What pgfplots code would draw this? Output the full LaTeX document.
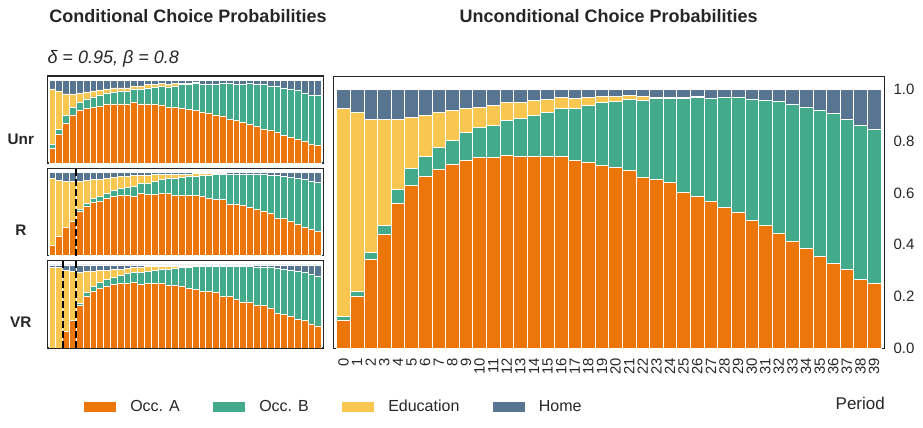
\documentclass[border=0pt]{standalone}
\usepackage{pgfplots}
\pgfplotsset{compat=1.18}
\usepackage{pgfplotstable}
\usepackage{fontspec}
\setmainfont{Liberation Sans}
\definecolor{occa}{RGB}{236,118,10}
\definecolor{occb}{RGB}{67,170,139}
\definecolor{edu}{RGB}{249,199,79}
\definecolor{home}{RGB}{87,117,144}
\definecolor{txt}{RGB}{38,38,38}
\newcommand{\fs}[1]{\fontsize{#1}{#1}\selectfont}

\pgfplotstableread{
x A B E H
0 .108 .016 .803 .073
1 .201 .019 .691 .089
2 .344 .027 .513 .116
3 .440 .035 .409 .116
4 .560 .054 .270 .116
5 .629 .066 .197 .108
6 .664 .077 .159 .100
7 .691 .085 .135 .089
8 .710 .093 .116 .081
9 .726 .108 .093 .073
10 .737 .116 .078 .069
11 .737 .124 .077 .062
12 .745 .135 .070 .050
13 .741 .147 .062 .050
14 .741 .159 .058 .042
15 .741 .170 .050 .039
16 .741 .186 .042 .031
17 .726 .201 .038 .035
18 .718 .220 .031 .031
19 .707 .243 .023 .027
20 .699 .255 .019 .027
21 .687 .274 .016 .023
22 .660 .298 .015 .027
23 .653 .312 .005 .030
24 .641 .324 .005 .030
25 .602 .363 .005 .030
26 .587 .382 .004 .027
27 .568 .397 .002 .033
28 .544 .425 .001 .030
29 .525 .444 .001 .030
30 .494 .467 .001 .038
31 .475 .483 0 .042
32 .444 .510 0 .046
33 .413 .529 0 .058
34 .386 .545 0 .069
35 .355 .564 0 .081
36 .328 .579 0 .093
37 .305 .579 0 .116
38 .266 .595 0 .139
39 .251 .595 0 .154
}\main

\pgfplotstableread{
x A B E H
0 .177 .053 .665 .105
1 .347 .064 .460 .129
2 .484 .097 .254 .165
3 .581 .096 .158 .165
4 .641 .097 .109 .153
5 .665 .109 .085 .141
6 .677 .121 .073 .129
7 .690 .133 .060 .117
8 .714 .133 .048 .105
9 .714 .145 .048 .093
10 .714 .157 .036 .093
11 .714 .157 .036 .093
12 .738 .157 .036 .069
13 .714 .181 .036 .069
14 .714 .193 .037 .056
15 .714 .205 .025 .056
16 .702 .229 .025 .044
17 .677 .242 .025 .056
18 .677 .254 .025 .044
19 .665 .279 .012 .044
20 .653 .291 .012 .044
21 .641 .315 .012 .032
22 .617 .327 .006 .050
23 .605 .339 0 .056
24 .581 .363 0 .056
25 .569 .387 0 .044
26 .532 .424 0 .044
27 .520 .424 0 .056
28 .496 .448 0 .056
29 .472 .484 0 .044
30 .448 .496 0 .056
31 .411 .533 0 .056
32 .399 .532 0 .069
33 .375 .556 0 .069
34 .339 .568 0 .093
35 .315 .580 0 .105
36 .290 .593 0 .117
37 .266 .581 0 .153
38 .230 .593 0 .177
39 .218 .605 0 .177
}\unr

\pgfplotstableread{
x A B E H
0 .121 0 .806 .073
1 .230 0 .673 .097
2 .339 0 .552 .109
3 .415 0 .476 .109
4 .528 .028 .335 .109
5 .593 .036 .274 .097
6 .641 .049 .225 .085
7 .653 .061 .201 .085
8 .690 .060 .177 .073
9 .714 .072 .154 .060
10 .726 .084 .146 .044
11 .726 .097 .133 .044
12 .714 .121 .133 .032
13 .750 .121 .097 .032
14 .738 .133 .097 .032
15 .738 .157 .085 .020
16 .750 .169 .061 .020
17 .750 .181 .049 .020
18 .726 .205 .049 .020
19 .726 .218 .036 .020
20 .726 .230 .024 .020
21 .726 .230 .036 .008
22 .714 .254 .024 .008
23 .690 .278 .024 .008
24 .677 .303 .005 .015
25 .677 .303 .015 .005
26 .617 .363 0 .020
27 .617 .363 0 .020
28 .605 .375 0 .020
29 .581 .399 0 .020
30 .556 .424 0 .020
31 .532 .448 0 .020
32 .508 .460 0 .032
33 .448 .520 0 .032
34 .448 .508 0 .044
35 .411 .533 0 .056
36 .375 .556 0 .069
37 .339 .580 0 .081
38 .315 .580 0 .105
39 .290 .593 0 .117
}\rr

\pgfplotstableread{
x A B E H
0 0 0 .964 .036
1 0 0 .964 .036
2 .206 0 .723 .071
3 .336 0 .581 .083
4 .514 .024 .367 .095
5 .621 .047 .249 .083
6 .680 .059 .178 .083
7 .715 .072 .142 .071
8 .739 .083 .107 .071
9 .763 .083 .095 .059
10 .775 .095 .071 .059
11 .775 .118 .060 .047
12 .787 .118 .059 .036
13 .763 .142 .059 .036
14 .775 .142 .059 .024
15 .775 .154 .047 .024
16 .775 .166 .035 .024
17 .751 .190 .035 .024
18 .751 .202 .023 .024
19 .739 .225 .024 .012
20 .715 .249 .024 .012
21 .704 .272 .012 .012
22 .680 .296 0 .024
23 .680 .296 0 .024
24 .668 .308 0 .024
25 .621 .355 0 .024
26 .621 .355 0 .024
27 .585 .391 0 .024
28 .549 .427 0 .024
29 .549 .427 0 .024
30 .514 .450 0 .036
31 .514 .450 0 .036
32 .478 .486 0 .036
33 .419 .534 0 .047
34 .407 .534 0 .059
35 .383 .546 0 .071
36 .348 .569 0 .083
37 .336 .569 0 .095
38 .289 .592 0 .119
39 .265 .593 0 .142
}\vr

\pgfplotsset{
  base/.style={scale only axis, xmin=-0.75, xmax=39.75, ymin=0, ymax=1.05,
    ybar stacked, bar width=1, major tick length=0pt,
    axis line style={txt, line width=1.25pt}},
  small/.style={base, width=276pt, height=87.3pt, xtick=\empty, ytick=\empty,
    axis line style={txt, line width=1.6pt}},
  bars/.style={draw=white, line width=0.7pt},
}
\newcommand{\stack}[1]{%
  \addplot[bars, fill=occa] table[x=x,y=A] {#1};
  \addplot[bars, fill=occb] table[x=x,y=B] {#1};
  \addplot[bars, fill=edu] table[x=x,y=E] {#1};
  \addplot[bars, fill=home] table[x=x,y=H] {#1};
}
\tikzset{dline/.style={black, line width=2.2pt, dash pattern=on 7pt off 3pt}}

\begin{document}
\begin{tikzpicture}[x=1pt,y=1pt]
\useasboundingbox (0,0) rectangle (923,428);

\begin{axis}[small, at={(47.3pt,264.7pt)}, anchor=south west]
\stack{\unr}
\end{axis}

\begin{axis}[small, at={(47.3pt,172.3pt)}, anchor=south west]
\stack{\rr}
\coordinate (ra) at (axis cs:3.5,0);
\coordinate (rb) at (axis cs:3.5,1.05);
\end{axis}
\draw[dline] (ra) -- (rb);

\begin{axis}[small, at={(47.3pt,80pt)}, anchor=south west]
\stack{\vr}
\coordinate (va) at (axis cs:1.5,0);
\coordinate (vb) at (axis cs:1.5,1.05);
\coordinate (vc) at (axis cs:3.5,0);
\coordinate (vd) at (axis cs:3.5,1.05);
\end{axis}
\draw[dline] (va) -- (vb);
\draw[dline] (vc) -- (vd);

\begin{axis}[base, width=551pt, height=271.6pt, at={(333.3pt,79.7pt)}, anchor=south west,
  xtick={0,...,39}, ytick={0,0.2,0.4,0.6,0.8,1},
  yticklabel pos=right,
  /pgf/number format/assume math mode=true,
  yticklabel style={font=\fs{15}, text=txt, inner sep=0pt, anchor=west,
    /pgf/number format/.cd, fixed, fixed zerofill, precision=1},
  yticklabel shift=9pt,
  xticklabel style={font=\fs{14.8}, text=txt, inner sep=0pt, rotate=90, anchor=east},
  xticklabel shift=10pt,
  legend columns=4,
  legend image code/.code={\fill[#1, draw=none] (0pt,-5pt) rectangle (32pt,5pt);},
  legend style={at={(-0.4523,-0.2143)}, anchor=west, draw=none, fill=none,
    inner sep=0pt, font=\fs{16}, text=txt,
    /tikz/every odd column/.append style={column sep=12pt},
    /tikz/every even column/.append style={column sep=31.5pt}},
  legend cell align=left,
]
\stack{\main}
\legend{Occ. A, Occ. B, Education, Home}
\end{axis}

\node[anchor=base, font=\bfseries\fs{18}, text=txt, inner sep=0pt] at (188,405.3) {Conditional Choice Probabilities};
\node[anchor=base, font=\bfseries\fs{18}, text=txt, inner sep=0pt] at (608.7,405.3) {Unconditional Choice Probabilities};
\node[anchor=base west, font=\itshape\fs{18}, text=txt, inner sep=0pt] at (47.3,364) {δ = 0.95, β = 0.8};
\node[anchor=base, font=\bfseries\fs{15.3}, text=txt, inner sep=0pt] at (20.8,283.7) {Unr};
\node[anchor=base, font=\bfseries\fs{15.3}, text=txt, inner sep=0pt] at (20.8,192) {R};
\node[anchor=base, font=\bfseries\fs{15.3}, text=txt, inner sep=0pt] at (20.8,100.3) {VR};
\node[anchor=base east, font=\fs{17}, text=txt, inner sep=0pt] at (885,18) {Period};
\end{tikzpicture}
\end{document}
